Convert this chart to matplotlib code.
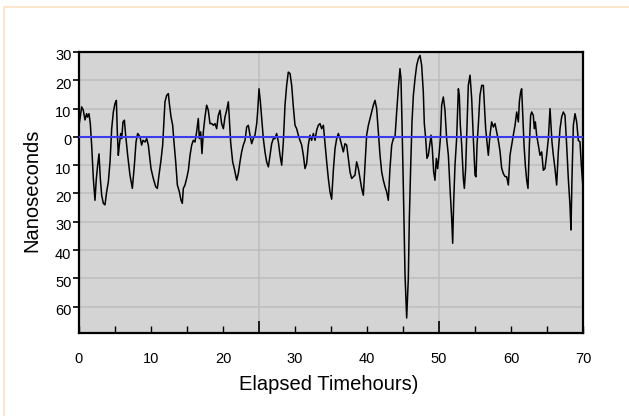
import matplotlib
matplotlib.use("Agg")
import matplotlib.pyplot as plt
from matplotlib.ticker import MultipleLocator, FixedLocator
from matplotlib.patches import Rectangle
import matplotlib.transforms as mtransforms

plt.rcParams['font.family'] = ['Liberation Sans', 'DejaVu Sans']

# ---- data ----
hours = [0, 0.37, 0.6, 0.83, 1.06, 1.2, 1.39, 1.57, 1.76, 1.99, 2.22, 2.4, 2.59, 2.78, 2.96, 3.15, 3.38, 3.61, 3.84,
         4.07, 4.31, 4.54, 4.77, 5.0, 5.19, 5.32, 5.46, 5.6, 5.79, 5.93, 6.11, 6.3, 6.48, 6.76, 7.08, 7.41, 7.69,
         7.92, 8.15, 8.33, 8.52, 8.70, 8.89, 9.17, 9.4, 9.63, 10.0, 10.32, 10.65, 10.88, 11.11, 11.39, 11.62, 11.85,
         11.94, 12.18, 12.41, 12.55, 12.78, 13.01, 13.19, 13.43, 13.66, 13.94, 14.17, 14.35, 14.49, 14.72, 14.95,
         15.19, 15.42, 15.65, 15.88, 16.11, 16.34, 16.57, 16.71, 16.90, 17.08, 17.27, 17.5, 17.73, 17.96, 18.19,
         18.43, 18.66, 18.89, 19.12, 19.35, 19.58, 19.81, 20.05, 20.28, 20.51, 20.74, 20.88, 21.06, 21.34, 21.57,
         21.90, 22.13, 22.36, 22.59, 22.82,
         23.06, 23.29, 23.52, 23.75, 23.98, 24.21, 24.44, 24.68, 24.81, 25.0, 25.19, 25.37, 25.6, 25.83, 26.06,
         26.30, 26.53, 26.76, 26.99, 27.22, 27.45, 27.69, 27.92, 28.15, 28.38, 28.61, 28.84, 29.07, 29.31, 29.54,
         29.77, 30.0, 30.23, 30.46, 30.69, 30.93, 31.16, 31.39, 31.62, 31.85, 32.08, 32.31, 32.55, 32.78, 33.01,
         33.24, 33.47, 33.70, 33.94, 34.17, 34.4, 34.63, 34.86,
         35.09, 35.32, 35.56, 35.79, 36.02, 36.25, 36.48, 36.71, 36.94, 37.18, 37.41, 37.64, 37.87, 38.10, 38.33,
         38.56, 38.80, 39.03, 39.26, 39.49, 39.72, 39.95, 40.19, 40.42, 40.65, 40.88, 41.11, 41.34, 41.57, 41.81,
         42.04, 42.27, 42.50, 42.73, 42.96, 43.19, 43.43, 43.66, 43.89, 44.12, 44.35, 44.58, 44.72, 44.86, 45.05,
         45.28, 45.51, 45.74, 45.88, 46.06, 46.25, 46.44, 46.67, 46.90, 47.13, 47.36,
         47.59, 47.82, 47.96, 48.15, 48.33, 48.52, 48.70, 48.89, 49.07, 49.26, 49.44, 49.63, 49.81, 50.0, 50.19,
         50.37, 50.6, 50.83, 51.06, 51.30, 51.53, 51.76, 51.90, 52.04, 52.22, 52.45, 52.69, 52.82, 52.96, 53.15,
         53.38, 53.52, 53.70, 53.89, 54.07, 54.31, 54.54, 54.77, 55.0, 55.14, 55.28, 55.46, 55.69, 55.93, 56.16,
         56.30, 56.48, 56.67, 56.85, 57.08, 57.31, 57.55, 57.78, 58.01, 58.24,
         58.47, 58.70, 58.94, 59.17, 59.40, 59.63, 59.86, 60.09, 60.32, 60.56, 60.79, 61.02, 61.16, 61.34, 61.48,
         61.62, 61.81, 61.99, 62.18, 62.36, 62.55, 62.73, 62.87, 63.10, 63.24, 63.38, 63.56, 63.80, 64.03, 64.26,
         64.49, 64.72, 64.95, 65.19, 65.42, 65.56, 65.69, 65.88, 66.11, 66.34, 66.57, 66.81, 67.04, 67.27, 67.50,
         67.73, 67.96, 68.19, 68.33, 68.47, 68.66, 68.89, 69.12, 69.35, 69.58, 69.77, 70.0]

nanoseconds = [4, 10.6, 9.4, 6, 8.2, 7, 8.2, 4.7, -3, -14.7, -22.4, -15, -10, -6, -14.7, -20.6, -23.5, -24, -19.4,
               -16, -8.8, 2.9, 8.8, 11.8, 12.9, 1.8, -6.5, -2.9, 1.2, -0.6, 5.3, 5.9, 0.6, -6.5, -13.5, -18.2, -10,
               -1.8, 1.2, 0.6, -0.6, -2.9, -1.2, -1.8, -0.6, -2.9, -11.2, -14.7, -17.6, -18.2, -13.5, -8.2, -2.9, 7.6,
               12.4, 14.7, 15.3, 11.8, 7.1, 4.1, -1.8, -8.8, -17, -19.4, -22.4, -23.5, -18.2, -17, -14.7,
               -11.8, -6.5, -2.9, -1.2, -1.8, 1.8, 6.5, -0.6, 1.8, -5.9, 1.8, 7.1, 11.2, 9.4, 4.7,
               4.7, 4.1, 4.7, 2.9, 7.6, 9.4, 4.7, 2.9, 7.1, 9.4, 12.4, 6.5, -1.8, -8.8, -11.2,
               -15.3, -12.9, -8.8, -5.3, -2.9,
               -1.2, 3.5, 4.1, 0.6, -2.4, -0.6, 0.6, 4.7, 8.8, 17, 12.4, 6.5, -0.6, -5.3, -8.8,
               -10.6, -6.5, -2.4, -0.6, -0.6, 1.2, -1.8, -6.5, -10, -1.8, 11.2, 18.2, 22.9, 22.4, 18.2,
               10.6, 4.1, 2.9, 0.6, -1.2, -2.9, -6.5, -11.2, -9.4, -2.9, 0.6, -1.2, 1.2, -1.2, 2.4,
               4.1, 4.7, 2.9, 4.1, -2.4, -8.8, -14.7, -19.4,
               -22, -12, -4.1, -0.6, 1.2, -0.6, -2.9, -5.3, -2.4, -2.9, -7.6, -12.4, -14.7, -14.1, -13.5,
               -8.8, -11.2, -14.7, -18.2, -20.6, -10, 0.6, 4.1, 6.5, 8.8, 11.2, 12.9, 10, 1.8, -6.5,
               -12.4, -15.3, -17.6, -19.4, -22.4, -11.2, -2.9, -0.6, 0, 8.8, 17, 24.1, 20.6, 5.3, -18.2,
               -48.8, -64, -50, -28.8, -11.2, 5.3, 14.7, 20.6, 25.3, 27.6, 28.8,
               25.3, 15.9, 4.7, -0.6, -7.6, -6.5, -2.9, 0.6, -4.1, -12.4, -15.3, -7.6, -11.2, -6.5, -0.6,
               11.2, 14.1, 9.4, -0.6, -6.5, -18.2, -28.8, -37.6, -22.9, -10, -0.6, 17, 14.7, 4.1, -2.9,
               -14.7, -18.2, -11.2, 4.1, 18.2, 21.8, 13.5, -0.6, -13.5, -14.1, -2.9, 4.1, 14.7, 18.2, 18.2,
               11.2, 2.9, -1.8, -6.5, 0.6, 5.3, 3.5, 4.7, 1.8, -1.2,
               -5, -11, -13, -14, -14.1, -17, -6.5, -2.9, 0.6, 4.1, 8.8, 5.3, 12.4, 15.9, 17,
               8.8, -2.9, -10, -15.3, -18.2, -2.9, 7.6, 8.8, 7.6, 2.9, 5.3, 0.6, -2.9, -6.5, -5.3,
               -11.8, -11.2, -6.5, -0.6, 10, 4.1, -1.8, -6.5, -11.2, -17, -5.3, 2.9, 7.1, 8.8, 7.6,
               -2.9, -14.7, -24.1, -32.9, -14.7, 4.1, 8.2, 5.3, -1.2, -1.8, -10, -18]

y_ticks = [30, 20, 10, 0, -10, -20, -30, -40, -50, -60]
y_tick_labels = ["30", "20", "10", "0", "10", "20", "30", "40", "50", "60"]
x_tick_labels_pos = [0, 10, 20, 30, 40, 50, 60, 70]
x_major_marks = [25, 50]
reference_level = 0

# ---- figure ----
fig = plt.figure(figsize=(6.29, 4.16), dpi=100)
fig.patch.set_facecolor('white')
# light orange outer frame (left/top edges visible)
fig.patches.append(Rectangle((4 / 629, -0.05), 1.2, 1 - 7 / 416 + 0.05, transform=fig.transFigure,
                             fill=False, edgecolor='#fde2c2', linewidth=1.2))

ax = fig.add_axes([79 / 629, 1 - 333 / 416, 504 / 629, 281 / 416])
ax.set_facecolor('#d4d4d4')

ax.plot(hours, nanoseconds, color='black', linewidth=1.1, zorder=3)
ax.axhline(reference_level, color='#3a3aee', linewidth=1.5, zorder=4)

ax.set_xlim(0, 70)
ax.set_ylim(-69.3, 30)

# y axis
ax.yaxis.set_major_locator(FixedLocator(y_ticks))
ax.set_yticklabels(y_tick_labels, fontsize=10.5)
ax.tick_params(axis='y', which='major', direction='out', length=4.5, width=1.2, pad=1, colors='black')
offset = mtransforms.ScaledTranslation(0, -3 / 100, fig.dpi_scale_trans)
for lab in ax.get_yticklabels():
    lab.set_transform(lab.get_transform() + offset)
ax.grid(axis='y', color='#bdbdbd', linewidth=1.1, zorder=1)

# x axis: long ticks + grid at 25/50, short ticks every 5
ax.xaxis.set_major_locator(FixedLocator(x_major_marks))
ax.xaxis.set_minor_locator(MultipleLocator(5))
ax.tick_params(axis='x', which='major', direction='in', length=9, width=1.2, labelbottom=False)
ax.tick_params(axis='x', which='minor', direction='in', length=5, width=1.0)
ax.grid(axis='x', which='major', color='#bdbdbd', linewidth=1.1, zorder=1)
ax.set_axisbelow(True)

sec = ax.secondary_xaxis('bottom')
sec.set_xticks(x_tick_labels_pos)
sec.set_xticklabels([str(v) for v in x_tick_labels_pos], fontsize=10.5)
sec.tick_params(length=0, pad=14)
sec.spines['bottom'].set_visible(False)

for s in ax.spines.values():
    s.set_linewidth(1.6)
    s.set_color('black')

fig.text(32 / 629, 1 - 190 / 416, 'Nanoseconds', rotation=90, ha='center', va='center', fontsize=14.5)
fig.text(329 / 629, 1 - 385 / 416, 'Elapsed Timehours)', ha='center', va='center', fontsize=14.5)

fig.savefig('out.png', dpi=100, facecolor='white')
